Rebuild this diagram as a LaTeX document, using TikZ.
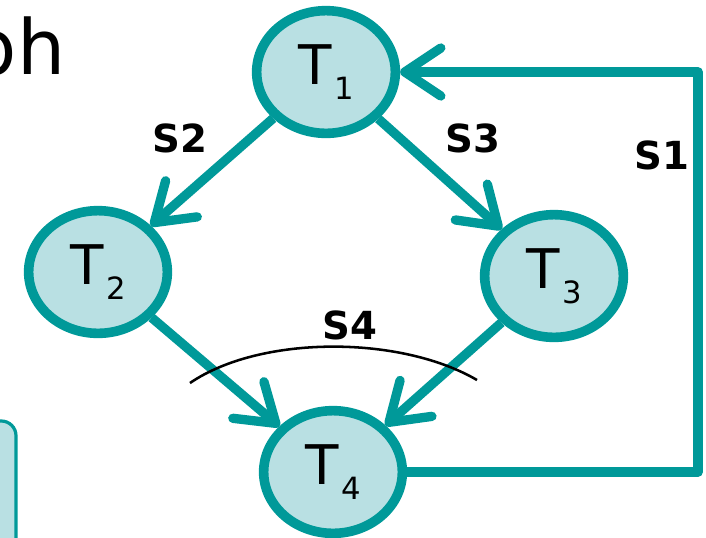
\documentclass[tikz,border=0pt]{standalone}
\usepackage{fontspec}
\setmainfont{DejaVu Sans}
\usetikzlibrary{arrows.meta,shapes.geometric}

\definecolor{teal}{RGB}{0,153,153}
\definecolor{lightteal}{RGB}{185,224,227}

\tikzset{
  task/.style={ellipse, draw=teal, fill=lightteal, line width=7.2pt,
    minimum width=104pt, minimum height=92pt, inner sep=0pt,
    font=\fontsize{41}{41}\selectfont},
  flow/.style={draw=teal, line width=7pt, line join=round,
    -{Straight Barb[length=27pt,width=36pt,round]}},
  lbl/.style={font=\fontsize{29}{29}\selectfont\bfseries}
}
\newcommand{\tsk}[1]{T\kern2pt\raisebox{-11pt}{\fontsize{23}{23}\selectfont #1}}

\begin{document}
\begin{tikzpicture}[x=0.75pt,y=0.75pt,yscale=-1,xscale=1]
\useasboundingbox (0,0) rectangle (706,537);

% Title Text
\node[anchor=base east, font=\fontsize{57}{57}\selectfont] (title) at (70,74) {ph};
% Side Box
\draw[teal, fill=lightteal, line width=2.4pt, rounded corners=11pt] (-60,421) rectangle (16,600);

% Tasks
\node[task] (t1) at (326,72) {\tsk{1}};
\node[task] (t2) at (98,272) {\tsk{2}};
\node[task] (t3) at (554,276) {\tsk{3}};
\node[task] (t4) at (333,472) {\tsk{4}};
\coordinate (rt) at (698,72);

% Connectors
\draw[flow] (t1) -- (t2);
\draw[flow] (t1) -- (t3);
\draw[flow] (t2) -- (t4);
\draw[flow] (t3) -- (t4);
\draw[flow] (t4.east) -| (rt) -- (t1.east);

% Join Arc
\draw[line width=1.9pt] (190,383) .. controls (260,335) and (400,335) .. (477,380);

% Text Node
\node[lbl] (s1) at (662,155) {S1};
% Text Node
\node[lbl] (s2) at (180,138) {S2};
% Text Node
\node[lbl] (s3) at (473,138) {S3};
% Text Node
\node[lbl] (s4) at (350,325) {S4};

\end{tikzpicture}
\end{document}
